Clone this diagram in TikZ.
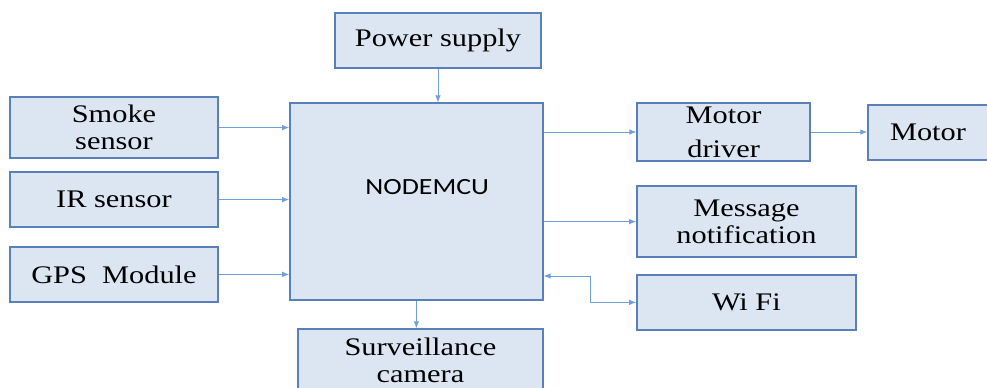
\documentclass[tikz,border=0pt]{standalone}
\usepackage{fontspec}
\setmainfont{Liberation Serif}[FakeStretch=1.2]
\newfontfamily\mcufont{Carlito}[FakeStretch=1.2]
\usepackage{tikz}
\usetikzlibrary{arrows.meta}

\definecolor{boxfill}{HTML}{DCE6F2}
\definecolor{boxline}{HTML}{5A80BC}
\definecolor{arrline}{HTML}{6FA0DA}

\tikzset{
  blk/.style={draw=boxline,line width=1pt,fill=boxfill,inner sep=0pt,align=center,
    font=\fontsize{18}{19}\selectfont},
  arr/.style={draw=arrline,line width=0.7pt,-{Latex[length=5pt,width=4pt]}},
}

\begin{document}
\begin{tikzpicture}
\useasboundingbox (0,0) rectangle (24.675,-9.7);
\begin{scope}
\clip (0,0) rectangle (24.675,-9.7);

\node[blk,minimum width=5.15cm,minimum height=1.375cm] (pwr) at (10.95,-1.01){Power supply};

\node[blk,minimum width=5.2cm,minimum height=1.525cm] (smoke) at (2.85,-3.19){Smoke\\sensor};
\node[blk,minimum width=5.2cm,minimum height=1.375cm] (ir) at (2.85,-4.99){IR sensor};
\node[blk,minimum width=5.2cm,minimum height=1.375cm] (gps) at (2.85,-6.86){GPS\ \ Module};

\node[blk,minimum width=6.325cm,minimum height=4.925cm] (mcu) at (10.41,-5.04){};
\node[font=\mcufont\fontsize{16.5}{18}\selectfont] (mcutxt) at (10.68,-4.68){NODEMCU};

\node[blk,minimum width=4.325cm,minimum height=1.45cm,
  font=\fontsize{18}{24}\selectfont] (drv) at (18.09,-3.3){Motor\\driver};
\node[blk,minimum width=3cm,minimum height=1.375cm] (motor) at (23.2,-3.31){Motor};
\node[blk,minimum width=5.475cm,minimum height=1.775cm] (msg) at (18.66,-5.54){Message\\notification};
\node[blk,minimum width=5.475cm,minimum height=1.375cm] (wifi) at (18.66,-7.56){Wi Fi};

\node[blk,minimum width=6.125cm,minimum height=1.55cm] (cam) at (10.51,-9.0){Surveillance\\camera};

% connectors
\coordinate (wbend) at (14.75,-6.9);
\draw[arr] (pwr.south) -- (pwr.south |- mcu.north);
\draw[arr] (smoke.east) -- (smoke.east -| mcu.west);
\draw[arr] (ir.east) -- (ir.east -| mcu.west);
\draw[arr] (gps.east) -- (gps.east -| mcu.west);
\draw[arr] (drv.west -| mcu.east) -- (drv.west);
\draw[arr] (drv.east) -- (drv.east -| motor.west);
\draw[arr] (msg.west -| mcu.east) -- (msg.west);
\draw[arr,{Latex[length=5pt,width=4pt]}-{Latex[length=5pt,width=4pt]}] (wbend -| mcu.east) -- (wbend) |- (wifi.west);
\draw[arr] (mcu.south) -- (mcu.south |- cam.north);
\end{scope}
\end{tikzpicture}
\end{document}
